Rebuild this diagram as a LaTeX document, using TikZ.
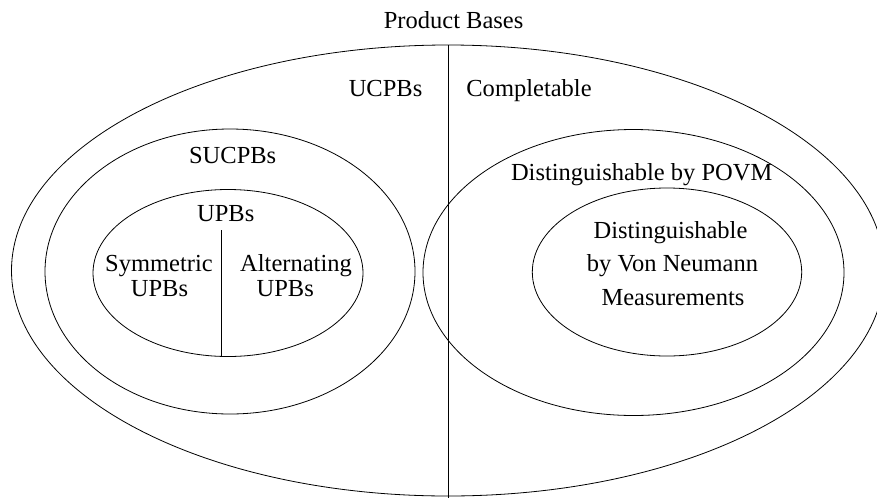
\documentclass[tikz,border=0pt]{standalone}
\usepackage{fontspec}
\setmainfont{Liberation Serif}
\begin{document}
\begin{tikzpicture}[x=1pt,y=-1pt,line width=0.8pt,
  lbl/.style={font=\fontsize{24.5}{28}\selectfont,inner sep=0pt,anchor=base},
  setline/.style={draw=black,line width=0.8pt}]
\useasboundingbox (0,0) rectangle (877,498);
\clip (0,0) rectangle (877,498);
% sets
\draw[setline] (448,270.5) ellipse [x radius=436.5, y radius=225.5];
\draw[setline] (230,271.5) ellipse [x radius=185, y radius=142.5];
\draw[setline] (228,273) ellipse [x radius=135, y radius=83.5];
\draw[setline] (633.5,272.5) ellipse [x radius=210.5, y radius=143];
\draw[setline] (667,272) ellipse [x radius=134.7, y radius=84];
% dividing lines
\coordinate (ctop) at (448,45);
\coordinate (cbot) at (448,498);
\draw[setline] (ctop) -- (cbot);
\coordinate (utop) at (221.7,230);
\coordinate (ubot) at (221.7,356.5);
\draw[setline] (utop) -- (ubot);
% labels
\node[lbl] (pb) at (453.6,28) {Product Bases};
\node[lbl,anchor=base east] (ucpb) at (422.7,96.5) {UCPBs};
\node[lbl,anchor=base west] (comp) at (466,96.5) {Completable};
\node[lbl] (sucpb) at (232.7,163.3) {SUCPBs};
\node[lbl] (upb) at (225.7,221.7) {UPBs};
\node[lbl] (sym1) at (159,271) {Symmetric};
\node[lbl] (sym2) at (159.5,296.7) {UPBs};
\node[lbl] (alt1) at (296,271) {Alternating};
\node[lbl] (alt2) at (285.2,296.7) {UPBs};
\node[lbl] (povm) at (641.7,180) {Distinguishable by POVM};
\node[lbl] (vn1) at (670.5,238.3) {Distinguishable};
\node[lbl] (vn2) at (672.5,271.7) {by Von Neumann};
\node[lbl] (vn3) at (673,305) {Measurements};
\end{tikzpicture}
\end{document}
